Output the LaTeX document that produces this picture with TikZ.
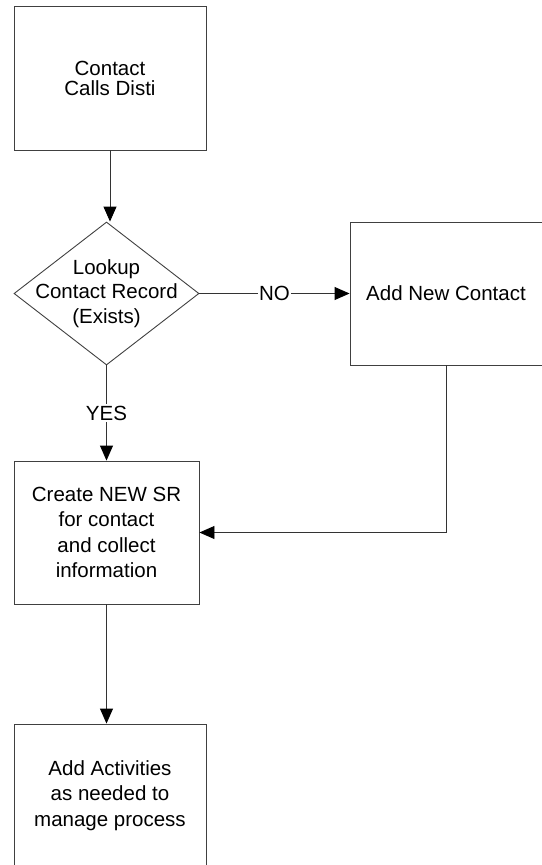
\documentclass[tikz,border=0pt]{standalone}
\usepackage{fontspec}
\setmainfont{Liberation Sans}
\usetikzlibrary{shapes.geometric,arrows.meta}

\begin{document}
\begin{tikzpicture}[x=1pt, y=-1pt,
        stepbox/.style={draw=black!75, line width=0.9pt, minimum width=192pt, minimum height=143pt,
            align=center, font=\fontsize{20.5}{25.5}\selectfont},
        decide/.style={diamond, draw=black!75, line width=0.9pt, minimum width=185pt, minimum height=143pt,
            inner sep=0pt},
        flow/.style={draw=black!80, line width=0.9pt, -{Triangle[length=15pt, width=13pt, fill=black, color=black]}},
        answer/.style={fill=white, inner sep=1.5pt, font=\fontsize{20.5}{25}\selectfont}]
        \useasboundingbox (0,0) rectangle (541,865);

        % boxes
        \node[stepbox, minimum height=144pt, font=\fontsize{20.5}{20}\selectfont] (call) at (110, 78) {Contact\\Calls Disti};
        \node[decide] (lookup) at (106.5, 293.5) {};
        \node[align=center, font=\fontsize{20.5}{24.5}\selectfont] (lookuptxt) at (lookup) {Lookup\\Contact Record\\(Exists)};
        \node[stepbox] (newc) at (446, 293.5) {Add New Contact};
        \node[stepbox, minimum width=185pt] (sr) at (106.5, 532.5) {Create NEW SR\\for contact\\and collect\\information};
        \node[stepbox] (act) at (110, 795.5) {Add Activities\\as needed to\\manage process};

        % connectors
        \draw[flow] (call.south) -- (call.south |- lookup.north);
        \draw[flow] (lookup.east) -- node[answer] {NO} (newc.west);
        \draw[flow] (lookup.south) -- node[answer] {YES} (sr.north);
        \draw[flow] (newc.south) |- (sr.east);
        \draw[flow] (sr.south) -- (sr.south |- act.north);

    \end{tikzpicture}
\end{document}
